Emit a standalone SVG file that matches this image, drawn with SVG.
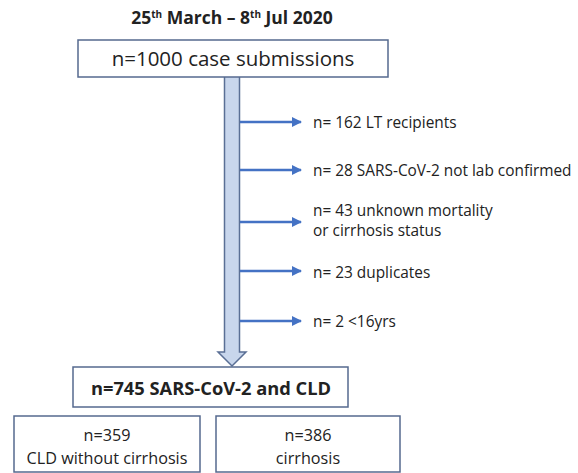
<svg xmlns="http://www.w3.org/2000/svg" width="578" height="473" viewBox="0 0 578 473">
<defs>
<style>
text{font-family:"Open Sans","Liberation Sans",sans-serif;fill:#222}
.box{fill:#fff;stroke:#55698f;stroke-width:1.5}
.lbl{font-size:15.4px}
.h{stroke:#4472c4;stroke-width:2.5;fill:none}
</style>
<marker id="ah" viewBox="0 0 10 10" refX="9" refY="5" markerWidth="4" markerHeight="4" orient="auto" markerUnits="strokeWidth">
<path d="M0,0L10,5L0,10z" fill="#4472c4"/>
</marker>
</defs>
<rect width="578" height="473" fill="#fff"/>
<text x="232" y="24" text-anchor="middle" font-size="17.5" font-weight="bold">25<tspan font-size="10" dy="-6">th</tspan><tspan dy="6"> March – 8</tspan><tspan font-size="10" dy="-6">th</tspan><tspan dy="6"> Jul 2020</tspan></text>
<g id="connectors">
<path d="M224.5,77V352H218L232,366L246,352H239.5V77" fill="#c8d6ec" stroke="#5a6f95" stroke-width="1.5"/>
<line class="h" x1="240" y1="122" x2="301" y2="122" marker-end="url(#ah)"/>
<line class="h" x1="240" y1="170" x2="301" y2="170" marker-end="url(#ah)"/>
<line class="h" x1="240" y1="222" x2="301" y2="222" marker-end="url(#ah)"/>
<line class="h" x1="240" y1="271" x2="301" y2="271" marker-end="url(#ah)"/>
<line class="h" x1="240" y1="321" x2="301" y2="321" marker-end="url(#ah)"/>
</g>
<g id="n1000">
<rect class="box" x="78" y="40" width="310" height="37"/>
<text x="233" y="66" text-anchor="middle" font-size="20.5">n=1000 case submissions</text>
</g>
<g id="ex1"><text class="lbl" x="313" y="127.5">n= 162 LT recipients</text></g>
<g id="ex2"><text class="lbl" x="313" y="175.5">n= 28 SARS-CoV-2 not lab confirmed</text></g>
<g id="ex3"><text class="lbl" x="313" y="215.5">n= 43 unknown mortality</text><text class="lbl" x="313" y="235.5">or cirrhosis status</text></g>
<g id="ex4"><text class="lbl" x="313" y="277.5">n= 23 duplicates</text></g>
<g id="ex5"><text class="lbl" x="313" y="326.5">n= 2 &lt;16yrs</text></g>
<g id="n745">
<rect class="box" x="73" y="367" width="275" height="40"/>
<text x="211" y="394.5" text-anchor="middle" font-size="18.3" font-weight="bold">n=745 SARS-CoV-2 and CLD</text>
</g>
<g id="n359">
<rect class="box" x="14" y="416" width="186" height="56"/>
<text x="107" y="440.5" text-anchor="middle" font-size="16.2">n=359</text>
<text x="107" y="463.5" text-anchor="middle" font-size="16.2">CLD without cirrhosis</text>
</g>
<g id="n386">
<rect class="box" x="216" y="416" width="184" height="56"/>
<text x="308" y="440.5" text-anchor="middle" font-size="16.2">n=386</text>
<text x="308" y="463.5" text-anchor="middle" font-size="16.2">cirrhosis</text>
</g>
</svg>
